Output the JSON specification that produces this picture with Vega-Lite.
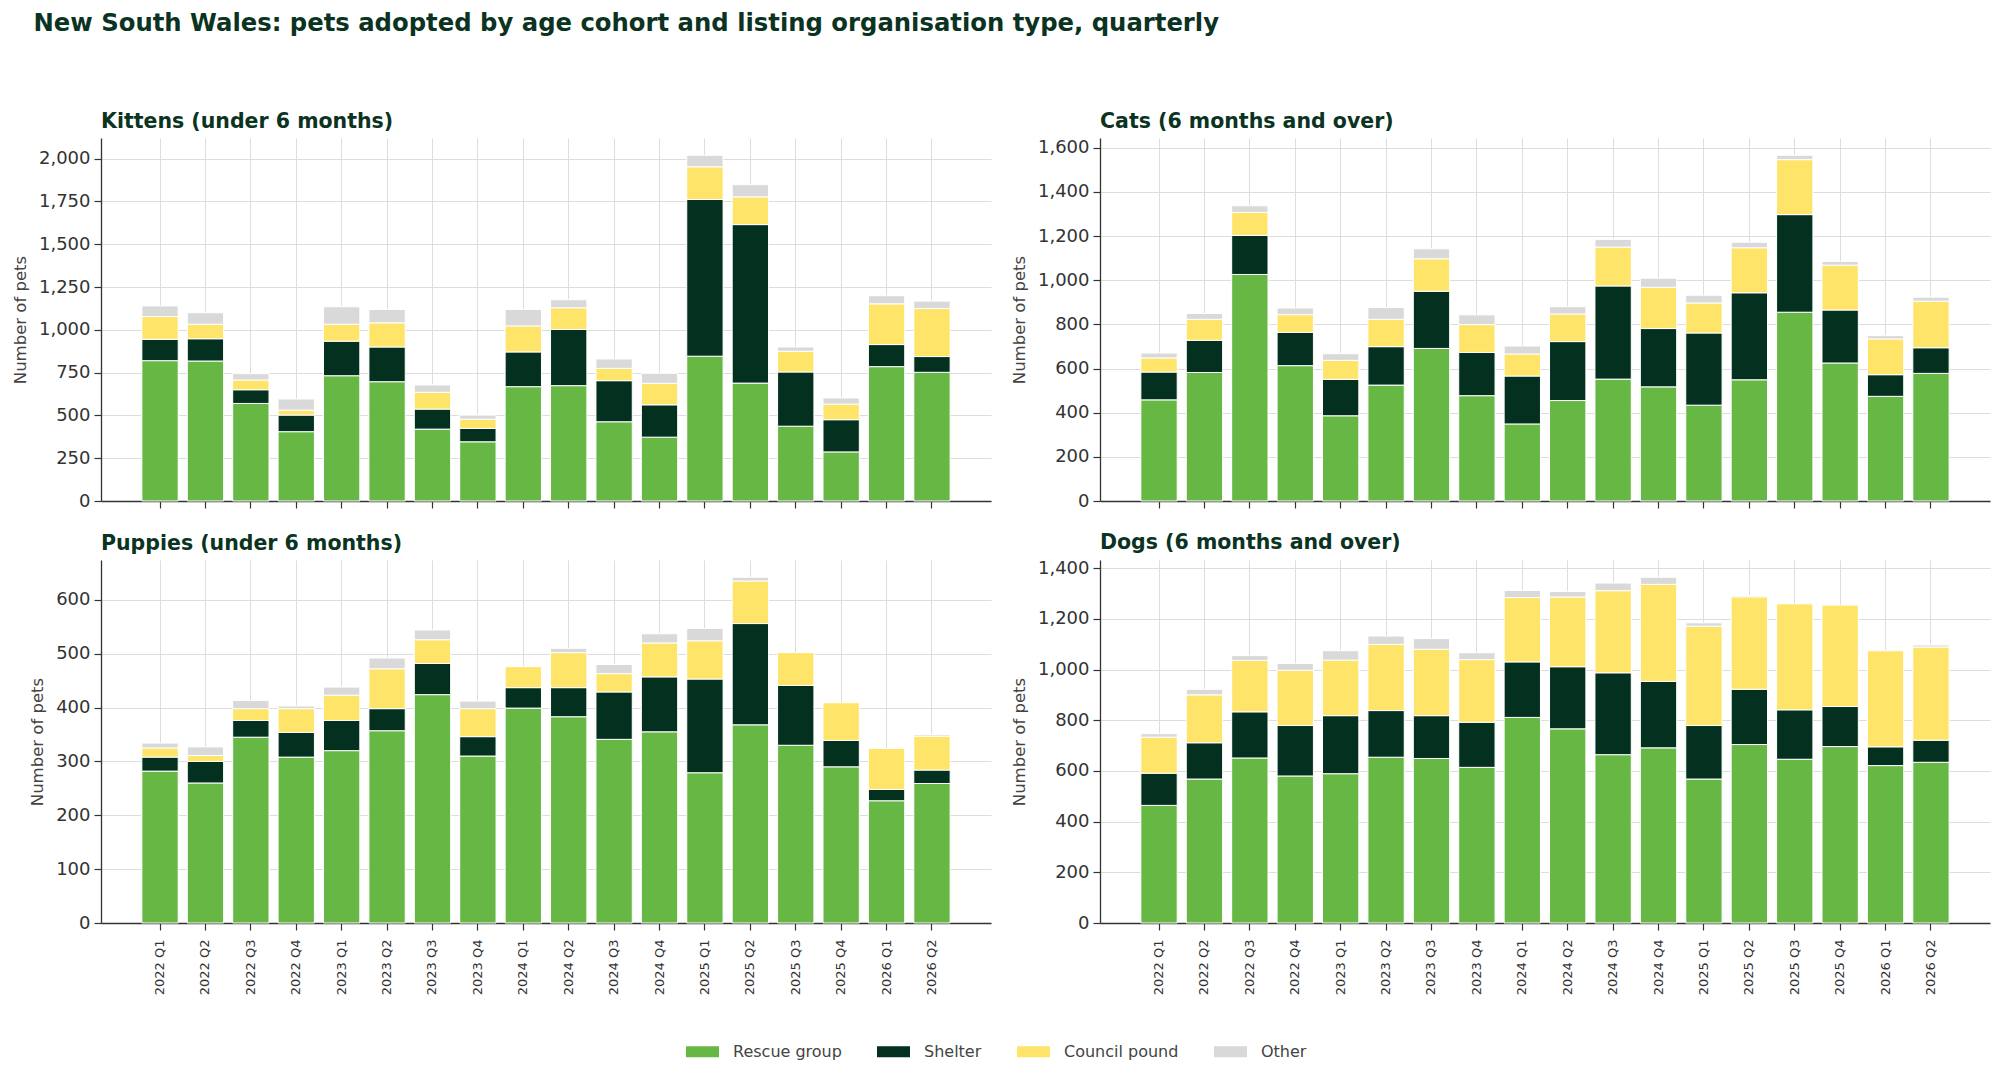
{
  "$schema": "https://vega.github.io/schema/vega-lite/v6.json",
  "description": "NSW pets adopted by age cohort and listing organisation type, quarterly",
  "background": "white",
  "padding": {"left": 12, "top": 12, "right": 8, "bottom": 5},
  "title": {
    "text": "New South Wales: pets adopted by age cohort and listing organisation type, quarterly",
    "anchor": "start",
    "frame": "bounds",
    "font": "DejaVu Sans",
    "fontSize": 24.3,
    "fontWeight": "bold",
    "color": "#0b3322",
    "dx": 21,
    "offset": 75
  },
  "datasets": {
    "ranks": [
      {"org": "Rescue group", "rank": 1},
      {"org": "Shelter", "rank": 2},
      {"org": "Council pound", "rank": 3},
      {"org": "Other", "rank": 4}
    ]
  },
  "data": {
    "values": [
      {"cohort": "Kittens", "quarter": "2022 Q1", "org": "Rescue group", "n": 820},
      {"cohort": "Kittens", "quarter": "2022 Q1", "org": "Shelter", "n": 125},
      {"cohort": "Kittens", "quarter": "2022 Q1", "org": "Council pound", "n": 133},
      {"cohort": "Kittens", "quarter": "2022 Q1", "org": "Other", "n": 62},
      {"cohort": "Kittens", "quarter": "2022 Q2", "org": "Rescue group", "n": 818},
      {"cohort": "Kittens", "quarter": "2022 Q2", "org": "Shelter", "n": 130},
      {"cohort": "Kittens", "quarter": "2022 Q2", "org": "Council pound", "n": 85},
      {"cohort": "Kittens", "quarter": "2022 Q2", "org": "Other", "n": 67},
      {"cohort": "Kittens", "quarter": "2022 Q3", "org": "Rescue group", "n": 570},
      {"cohort": "Kittens", "quarter": "2022 Q3", "org": "Shelter", "n": 80},
      {"cohort": "Kittens", "quarter": "2022 Q3", "org": "Council pound", "n": 57},
      {"cohort": "Kittens", "quarter": "2022 Q3", "org": "Other", "n": 37},
      {"cohort": "Kittens", "quarter": "2022 Q4", "org": "Rescue group", "n": 405},
      {"cohort": "Kittens", "quarter": "2022 Q4", "org": "Shelter", "n": 97},
      {"cohort": "Kittens", "quarter": "2022 Q4", "org": "Council pound", "n": 29},
      {"cohort": "Kittens", "quarter": "2022 Q4", "org": "Other", "n": 65},
      {"cohort": "Kittens", "quarter": "2023 Q1", "org": "Rescue group", "n": 732},
      {"cohort": "Kittens", "quarter": "2023 Q1", "org": "Shelter", "n": 202},
      {"cohort": "Kittens", "quarter": "2023 Q1", "org": "Council pound", "n": 99},
      {"cohort": "Kittens", "quarter": "2023 Q1", "org": "Other", "n": 102},
      {"cohort": "Kittens", "quarter": "2023 Q2", "org": "Rescue group", "n": 697},
      {"cohort": "Kittens", "quarter": "2023 Q2", "org": "Shelter", "n": 203},
      {"cohort": "Kittens", "quarter": "2023 Q2", "org": "Council pound", "n": 141},
      {"cohort": "Kittens", "quarter": "2023 Q2", "org": "Other", "n": 78},
      {"cohort": "Kittens", "quarter": "2023 Q3", "org": "Rescue group", "n": 420},
      {"cohort": "Kittens", "quarter": "2023 Q3", "org": "Shelter", "n": 117},
      {"cohort": "Kittens", "quarter": "2023 Q3", "org": "Council pound", "n": 98},
      {"cohort": "Kittens", "quarter": "2023 Q3", "org": "Other", "n": 43},
      {"cohort": "Kittens", "quarter": "2023 Q4", "org": "Rescue group", "n": 346},
      {"cohort": "Kittens", "quarter": "2023 Q4", "org": "Shelter", "n": 78},
      {"cohort": "Kittens", "quarter": "2023 Q4", "org": "Council pound", "n": 54},
      {"cohort": "Kittens", "quarter": "2023 Q4", "org": "Other", "n": 24},
      {"cohort": "Kittens", "quarter": "2024 Q1", "org": "Rescue group", "n": 668},
      {"cohort": "Kittens", "quarter": "2024 Q1", "org": "Shelter", "n": 203},
      {"cohort": "Kittens", "quarter": "2024 Q1", "org": "Council pound", "n": 152},
      {"cohort": "Kittens", "quarter": "2024 Q1", "org": "Other", "n": 96},
      {"cohort": "Kittens", "quarter": "2024 Q2", "org": "Rescue group", "n": 674},
      {"cohort": "Kittens", "quarter": "2024 Q2", "org": "Shelter", "n": 328},
      {"cohort": "Kittens", "quarter": "2024 Q2", "org": "Council pound", "n": 127},
      {"cohort": "Kittens", "quarter": "2024 Q2", "org": "Other", "n": 47},
      {"cohort": "Kittens", "quarter": "2024 Q3", "org": "Rescue group", "n": 463},
      {"cohort": "Kittens", "quarter": "2024 Q3", "org": "Shelter", "n": 240},
      {"cohort": "Kittens", "quarter": "2024 Q3", "org": "Council pound", "n": 72},
      {"cohort": "Kittens", "quarter": "2024 Q3", "org": "Other", "n": 55},
      {"cohort": "Kittens", "quarter": "2024 Q4", "org": "Rescue group", "n": 373},
      {"cohort": "Kittens", "quarter": "2024 Q4", "org": "Shelter", "n": 189},
      {"cohort": "Kittens", "quarter": "2024 Q4", "org": "Council pound", "n": 126},
      {"cohort": "Kittens", "quarter": "2024 Q4", "org": "Other", "n": 58},
      {"cohort": "Kittens", "quarter": "2025 Q1", "org": "Rescue group", "n": 846},
      {"cohort": "Kittens", "quarter": "2025 Q1", "org": "Shelter", "n": 916},
      {"cohort": "Kittens", "quarter": "2025 Q1", "org": "Council pound", "n": 191},
      {"cohort": "Kittens", "quarter": "2025 Q1", "org": "Other", "n": 67},
      {"cohort": "Kittens", "quarter": "2025 Q2", "org": "Rescue group", "n": 689},
      {"cohort": "Kittens", "quarter": "2025 Q2", "org": "Shelter", "n": 926},
      {"cohort": "Kittens", "quarter": "2025 Q2", "org": "Council pound", "n": 162},
      {"cohort": "Kittens", "quarter": "2025 Q2", "org": "Other", "n": 71},
      {"cohort": "Kittens", "quarter": "2025 Q3", "org": "Rescue group", "n": 437},
      {"cohort": "Kittens", "quarter": "2025 Q3", "org": "Shelter", "n": 317},
      {"cohort": "Kittens", "quarter": "2025 Q3", "org": "Council pound", "n": 121},
      {"cohort": "Kittens", "quarter": "2025 Q3", "org": "Other", "n": 25},
      {"cohort": "Kittens", "quarter": "2025 Q4", "org": "Rescue group", "n": 287},
      {"cohort": "Kittens", "quarter": "2025 Q4", "org": "Shelter", "n": 188},
      {"cohort": "Kittens", "quarter": "2025 Q4", "org": "Council pound", "n": 91},
      {"cohort": "Kittens", "quarter": "2025 Q4", "org": "Other", "n": 36},
      {"cohort": "Kittens", "quarter": "2026 Q1", "org": "Rescue group", "n": 785},
      {"cohort": "Kittens", "quarter": "2026 Q1", "org": "Shelter", "n": 129},
      {"cohort": "Kittens", "quarter": "2026 Q1", "org": "Council pound", "n": 238},
      {"cohort": "Kittens", "quarter": "2026 Q1", "org": "Other", "n": 47},
      {"cohort": "Kittens", "quarter": "2026 Q2", "org": "Rescue group", "n": 752},
      {"cohort": "Kittens", "quarter": "2026 Q2", "org": "Shelter", "n": 92},
      {"cohort": "Kittens", "quarter": "2026 Q2", "org": "Council pound", "n": 281},
      {"cohort": "Kittens", "quarter": "2026 Q2", "org": "Other", "n": 43},

      {"cohort": "Cats", "quarter": "2022 Q1", "org": "Rescue group", "n": 458},
      {"cohort": "Cats", "quarter": "2022 Q1", "org": "Shelter", "n": 126},
      {"cohort": "Cats", "quarter": "2022 Q1", "org": "Council pound", "n": 64},
      {"cohort": "Cats", "quarter": "2022 Q1", "org": "Other", "n": 22},
      {"cohort": "Cats", "quarter": "2022 Q2", "org": "Rescue group", "n": 582},
      {"cohort": "Cats", "quarter": "2022 Q2", "org": "Shelter", "n": 146},
      {"cohort": "Cats", "quarter": "2022 Q2", "org": "Council pound", "n": 95},
      {"cohort": "Cats", "quarter": "2022 Q2", "org": "Other", "n": 26},
      {"cohort": "Cats", "quarter": "2022 Q3", "org": "Rescue group", "n": 1026},
      {"cohort": "Cats", "quarter": "2022 Q3", "org": "Shelter", "n": 177},
      {"cohort": "Cats", "quarter": "2022 Q3", "org": "Council pound", "n": 104},
      {"cohort": "Cats", "quarter": "2022 Q3", "org": "Other", "n": 30},
      {"cohort": "Cats", "quarter": "2022 Q4", "org": "Rescue group", "n": 613},
      {"cohort": "Cats", "quarter": "2022 Q4", "org": "Shelter", "n": 151},
      {"cohort": "Cats", "quarter": "2022 Q4", "org": "Council pound", "n": 80},
      {"cohort": "Cats", "quarter": "2022 Q4", "org": "Other", "n": 30},
      {"cohort": "Cats", "quarter": "2023 Q1", "org": "Rescue group", "n": 386},
      {"cohort": "Cats", "quarter": "2023 Q1", "org": "Shelter", "n": 165},
      {"cohort": "Cats", "quarter": "2023 Q1", "org": "Council pound", "n": 86},
      {"cohort": "Cats", "quarter": "2023 Q1", "org": "Other", "n": 30},
      {"cohort": "Cats", "quarter": "2023 Q2", "org": "Rescue group", "n": 525},
      {"cohort": "Cats", "quarter": "2023 Q2", "org": "Shelter", "n": 174},
      {"cohort": "Cats", "quarter": "2023 Q2", "org": "Council pound", "n": 124},
      {"cohort": "Cats", "quarter": "2023 Q2", "org": "Other", "n": 53},
      {"cohort": "Cats", "quarter": "2023 Q3", "org": "Rescue group", "n": 691},
      {"cohort": "Cats", "quarter": "2023 Q3", "org": "Shelter", "n": 259},
      {"cohort": "Cats", "quarter": "2023 Q3", "org": "Council pound", "n": 147},
      {"cohort": "Cats", "quarter": "2023 Q3", "org": "Other", "n": 45},
      {"cohort": "Cats", "quarter": "2023 Q4", "org": "Rescue group", "n": 477},
      {"cohort": "Cats", "quarter": "2023 Q4", "org": "Shelter", "n": 196},
      {"cohort": "Cats", "quarter": "2023 Q4", "org": "Council pound", "n": 126},
      {"cohort": "Cats", "quarter": "2023 Q4", "org": "Other", "n": 44},
      {"cohort": "Cats", "quarter": "2024 Q1", "org": "Rescue group", "n": 349},
      {"cohort": "Cats", "quarter": "2024 Q1", "org": "Shelter", "n": 217},
      {"cohort": "Cats", "quarter": "2024 Q1", "org": "Council pound", "n": 100},
      {"cohort": "Cats", "quarter": "2024 Q1", "org": "Other", "n": 36},
      {"cohort": "Cats", "quarter": "2024 Q2", "org": "Rescue group", "n": 455},
      {"cohort": "Cats", "quarter": "2024 Q2", "org": "Shelter", "n": 267},
      {"cohort": "Cats", "quarter": "2024 Q2", "org": "Council pound", "n": 125},
      {"cohort": "Cats", "quarter": "2024 Q2", "org": "Other", "n": 33},
      {"cohort": "Cats", "quarter": "2024 Q3", "org": "Rescue group", "n": 552},
      {"cohort": "Cats", "quarter": "2024 Q3", "org": "Shelter", "n": 422},
      {"cohort": "Cats", "quarter": "2024 Q3", "org": "Council pound", "n": 176},
      {"cohort": "Cats", "quarter": "2024 Q3", "org": "Other", "n": 35},
      {"cohort": "Cats", "quarter": "2024 Q4", "org": "Rescue group", "n": 517},
      {"cohort": "Cats", "quarter": "2024 Q4", "org": "Shelter", "n": 264},
      {"cohort": "Cats", "quarter": "2024 Q4", "org": "Council pound", "n": 187},
      {"cohort": "Cats", "quarter": "2024 Q4", "org": "Other", "n": 41},
      {"cohort": "Cats", "quarter": "2025 Q1", "org": "Rescue group", "n": 434},
      {"cohort": "Cats", "quarter": "2025 Q1", "org": "Shelter", "n": 327},
      {"cohort": "Cats", "quarter": "2025 Q1", "org": "Council pound", "n": 136},
      {"cohort": "Cats", "quarter": "2025 Q1", "org": "Other", "n": 35},
      {"cohort": "Cats", "quarter": "2025 Q2", "org": "Rescue group", "n": 549},
      {"cohort": "Cats", "quarter": "2025 Q2", "org": "Shelter", "n": 394},
      {"cohort": "Cats", "quarter": "2025 Q2", "org": "Council pound", "n": 204},
      {"cohort": "Cats", "quarter": "2025 Q2", "org": "Other", "n": 25},
      {"cohort": "Cats", "quarter": "2025 Q3", "org": "Rescue group", "n": 855},
      {"cohort": "Cats", "quarter": "2025 Q3", "org": "Shelter", "n": 442},
      {"cohort": "Cats", "quarter": "2025 Q3", "org": "Council pound", "n": 249},
      {"cohort": "Cats", "quarter": "2025 Q3", "org": "Other", "n": 20},
      {"cohort": "Cats", "quarter": "2025 Q4", "org": "Rescue group", "n": 625},
      {"cohort": "Cats", "quarter": "2025 Q4", "org": "Shelter", "n": 240},
      {"cohort": "Cats", "quarter": "2025 Q4", "org": "Council pound", "n": 203},
      {"cohort": "Cats", "quarter": "2025 Q4", "org": "Other", "n": 17},
      {"cohort": "Cats", "quarter": "2026 Q1", "org": "Rescue group", "n": 474},
      {"cohort": "Cats", "quarter": "2026 Q1", "org": "Shelter", "n": 98},
      {"cohort": "Cats", "quarter": "2026 Q1", "org": "Council pound", "n": 162},
      {"cohort": "Cats", "quarter": "2026 Q1", "org": "Other", "n": 15},
      {"cohort": "Cats", "quarter": "2026 Q2", "org": "Rescue group", "n": 578},
      {"cohort": "Cats", "quarter": "2026 Q2", "org": "Shelter", "n": 116},
      {"cohort": "Cats", "quarter": "2026 Q2", "org": "Council pound", "n": 211},
      {"cohort": "Cats", "quarter": "2026 Q2", "org": "Other", "n": 18},

      {"cohort": "Puppies", "quarter": "2022 Q1", "org": "Rescue group", "n": 282},
      {"cohort": "Puppies", "quarter": "2022 Q1", "org": "Shelter", "n": 26},
      {"cohort": "Puppies", "quarter": "2022 Q1", "org": "Council pound", "n": 17},
      {"cohort": "Puppies", "quarter": "2022 Q1", "org": "Other", "n": 9},
      {"cohort": "Puppies", "quarter": "2022 Q2", "org": "Rescue group", "n": 260},
      {"cohort": "Puppies", "quarter": "2022 Q2", "org": "Shelter", "n": 40},
      {"cohort": "Puppies", "quarter": "2022 Q2", "org": "Council pound", "n": 11},
      {"cohort": "Puppies", "quarter": "2022 Q2", "org": "Other", "n": 16},
      {"cohort": "Puppies", "quarter": "2022 Q3", "org": "Rescue group", "n": 345},
      {"cohort": "Puppies", "quarter": "2022 Q3", "org": "Shelter", "n": 31},
      {"cohort": "Puppies", "quarter": "2022 Q3", "org": "Council pound", "n": 22},
      {"cohort": "Puppies", "quarter": "2022 Q3", "org": "Other", "n": 15},
      {"cohort": "Puppies", "quarter": "2022 Q4", "org": "Rescue group", "n": 308},
      {"cohort": "Puppies", "quarter": "2022 Q4", "org": "Shelter", "n": 46},
      {"cohort": "Puppies", "quarter": "2022 Q4", "org": "Council pound", "n": 44},
      {"cohort": "Puppies", "quarter": "2022 Q4", "org": "Other", "n": 5},
      {"cohort": "Puppies", "quarter": "2023 Q1", "org": "Rescue group", "n": 320},
      {"cohort": "Puppies", "quarter": "2023 Q1", "org": "Shelter", "n": 56},
      {"cohort": "Puppies", "quarter": "2023 Q1", "org": "Council pound", "n": 47},
      {"cohort": "Puppies", "quarter": "2023 Q1", "org": "Other", "n": 15},
      {"cohort": "Puppies", "quarter": "2023 Q2", "org": "Rescue group", "n": 357},
      {"cohort": "Puppies", "quarter": "2023 Q2", "org": "Shelter", "n": 41},
      {"cohort": "Puppies", "quarter": "2023 Q2", "org": "Council pound", "n": 74},
      {"cohort": "Puppies", "quarter": "2023 Q2", "org": "Other", "n": 20},
      {"cohort": "Puppies", "quarter": "2023 Q3", "org": "Rescue group", "n": 424},
      {"cohort": "Puppies", "quarter": "2023 Q3", "org": "Shelter", "n": 58},
      {"cohort": "Puppies", "quarter": "2023 Q3", "org": "Council pound", "n": 44},
      {"cohort": "Puppies", "quarter": "2023 Q3", "org": "Other", "n": 18},
      {"cohort": "Puppies", "quarter": "2023 Q4", "org": "Rescue group", "n": 310},
      {"cohort": "Puppies", "quarter": "2023 Q4", "org": "Shelter", "n": 36},
      {"cohort": "Puppies", "quarter": "2023 Q4", "org": "Council pound", "n": 52},
      {"cohort": "Puppies", "quarter": "2023 Q4", "org": "Other", "n": 14},
      {"cohort": "Puppies", "quarter": "2024 Q1", "org": "Rescue group", "n": 399},
      {"cohort": "Puppies", "quarter": "2024 Q1", "org": "Shelter", "n": 38},
      {"cohort": "Puppies", "quarter": "2024 Q1", "org": "Council pound", "n": 39},
      {"cohort": "Puppies", "quarter": "2024 Q2", "org": "Rescue group", "n": 383},
      {"cohort": "Puppies", "quarter": "2024 Q2", "org": "Shelter", "n": 54},
      {"cohort": "Puppies", "quarter": "2024 Q2", "org": "Council pound", "n": 65},
      {"cohort": "Puppies", "quarter": "2024 Q2", "org": "Other", "n": 8},
      {"cohort": "Puppies", "quarter": "2024 Q3", "org": "Rescue group", "n": 341},
      {"cohort": "Puppies", "quarter": "2024 Q3", "org": "Shelter", "n": 88},
      {"cohort": "Puppies", "quarter": "2024 Q3", "org": "Council pound", "n": 34},
      {"cohort": "Puppies", "quarter": "2024 Q3", "org": "Other", "n": 17},
      {"cohort": "Puppies", "quarter": "2024 Q4", "org": "Rescue group", "n": 355},
      {"cohort": "Puppies", "quarter": "2024 Q4", "org": "Shelter", "n": 102},
      {"cohort": "Puppies", "quarter": "2024 Q4", "org": "Council pound", "n": 63},
      {"cohort": "Puppies", "quarter": "2024 Q4", "org": "Other", "n": 17},
      {"cohort": "Puppies", "quarter": "2025 Q1", "org": "Rescue group", "n": 279},
      {"cohort": "Puppies", "quarter": "2025 Q1", "org": "Shelter", "n": 174},
      {"cohort": "Puppies", "quarter": "2025 Q1", "org": "Council pound", "n": 71},
      {"cohort": "Puppies", "quarter": "2025 Q1", "org": "Other", "n": 23},
      {"cohort": "Puppies", "quarter": "2025 Q2", "org": "Rescue group", "n": 368},
      {"cohort": "Puppies", "quarter": "2025 Q2", "org": "Shelter", "n": 188},
      {"cohort": "Puppies", "quarter": "2025 Q2", "org": "Council pound", "n": 79},
      {"cohort": "Puppies", "quarter": "2025 Q2", "org": "Other", "n": 7},
      {"cohort": "Puppies", "quarter": "2025 Q3", "org": "Rescue group", "n": 330},
      {"cohort": "Puppies", "quarter": "2025 Q3", "org": "Shelter", "n": 111},
      {"cohort": "Puppies", "quarter": "2025 Q3", "org": "Council pound", "n": 61},
      {"cohort": "Puppies", "quarter": "2025 Q4", "org": "Rescue group", "n": 290},
      {"cohort": "Puppies", "quarter": "2025 Q4", "org": "Shelter", "n": 49},
      {"cohort": "Puppies", "quarter": "2025 Q4", "org": "Council pound", "n": 70},
      {"cohort": "Puppies", "quarter": "2026 Q1", "org": "Rescue group", "n": 227},
      {"cohort": "Puppies", "quarter": "2026 Q1", "org": "Shelter", "n": 21},
      {"cohort": "Puppies", "quarter": "2026 Q1", "org": "Council pound", "n": 76},
      {"cohort": "Puppies", "quarter": "2026 Q2", "org": "Rescue group", "n": 259},
      {"cohort": "Puppies", "quarter": "2026 Q2", "org": "Shelter", "n": 25},
      {"cohort": "Puppies", "quarter": "2026 Q2", "org": "Council pound", "n": 63},
      {"cohort": "Puppies", "quarter": "2026 Q2", "org": "Other", "n": 3},

      {"cohort": "Dogs", "quarter": "2022 Q1", "org": "Rescue group", "n": 464},
      {"cohort": "Dogs", "quarter": "2022 Q1", "org": "Shelter", "n": 127},
      {"cohort": "Dogs", "quarter": "2022 Q1", "org": "Council pound", "n": 142},
      {"cohort": "Dogs", "quarter": "2022 Q1", "org": "Other", "n": 14},
      {"cohort": "Dogs", "quarter": "2022 Q2", "org": "Rescue group", "n": 568},
      {"cohort": "Dogs", "quarter": "2022 Q2", "org": "Shelter", "n": 143},
      {"cohort": "Dogs", "quarter": "2022 Q2", "org": "Council pound", "n": 189},
      {"cohort": "Dogs", "quarter": "2022 Q2", "org": "Other", "n": 22},
      {"cohort": "Dogs", "quarter": "2022 Q3", "org": "Rescue group", "n": 651},
      {"cohort": "Dogs", "quarter": "2022 Q3", "org": "Shelter", "n": 182},
      {"cohort": "Dogs", "quarter": "2022 Q3", "org": "Council pound", "n": 203},
      {"cohort": "Dogs", "quarter": "2022 Q3", "org": "Other", "n": 19},
      {"cohort": "Dogs", "quarter": "2022 Q4", "org": "Rescue group", "n": 580},
      {"cohort": "Dogs", "quarter": "2022 Q4", "org": "Shelter", "n": 199},
      {"cohort": "Dogs", "quarter": "2022 Q4", "org": "Council pound", "n": 218},
      {"cohort": "Dogs", "quarter": "2022 Q4", "org": "Other", "n": 27},
      {"cohort": "Dogs", "quarter": "2023 Q1", "org": "Rescue group", "n": 589},
      {"cohort": "Dogs", "quarter": "2023 Q1", "org": "Shelter", "n": 229},
      {"cohort": "Dogs", "quarter": "2023 Q1", "org": "Council pound", "n": 219},
      {"cohort": "Dogs", "quarter": "2023 Q1", "org": "Other", "n": 37},
      {"cohort": "Dogs", "quarter": "2023 Q2", "org": "Rescue group", "n": 654},
      {"cohort": "Dogs", "quarter": "2023 Q2", "org": "Shelter", "n": 184},
      {"cohort": "Dogs", "quarter": "2023 Q2", "org": "Council pound", "n": 261},
      {"cohort": "Dogs", "quarter": "2023 Q2", "org": "Other", "n": 33},
      {"cohort": "Dogs", "quarter": "2023 Q3", "org": "Rescue group", "n": 649},
      {"cohort": "Dogs", "quarter": "2023 Q3", "org": "Shelter", "n": 169},
      {"cohort": "Dogs", "quarter": "2023 Q3", "org": "Council pound", "n": 262},
      {"cohort": "Dogs", "quarter": "2023 Q3", "org": "Other", "n": 42},
      {"cohort": "Dogs", "quarter": "2023 Q4", "org": "Rescue group", "n": 614},
      {"cohort": "Dogs", "quarter": "2023 Q4", "org": "Shelter", "n": 178},
      {"cohort": "Dogs", "quarter": "2023 Q4", "org": "Council pound", "n": 247},
      {"cohort": "Dogs", "quarter": "2023 Q4", "org": "Other", "n": 27},
      {"cohort": "Dogs", "quarter": "2024 Q1", "org": "Rescue group", "n": 811},
      {"cohort": "Dogs", "quarter": "2024 Q1", "org": "Shelter", "n": 219},
      {"cohort": "Dogs", "quarter": "2024 Q1", "org": "Council pound", "n": 254},
      {"cohort": "Dogs", "quarter": "2024 Q1", "org": "Other", "n": 28},
      {"cohort": "Dogs", "quarter": "2024 Q2", "org": "Rescue group", "n": 766},
      {"cohort": "Dogs", "quarter": "2024 Q2", "org": "Shelter", "n": 245},
      {"cohort": "Dogs", "quarter": "2024 Q2", "org": "Council pound", "n": 275},
      {"cohort": "Dogs", "quarter": "2024 Q2", "org": "Other", "n": 22},
      {"cohort": "Dogs", "quarter": "2024 Q3", "org": "Rescue group", "n": 664},
      {"cohort": "Dogs", "quarter": "2024 Q3", "org": "Shelter", "n": 323},
      {"cohort": "Dogs", "quarter": "2024 Q3", "org": "Council pound", "n": 324},
      {"cohort": "Dogs", "quarter": "2024 Q3", "org": "Other", "n": 30},
      {"cohort": "Dogs", "quarter": "2024 Q4", "org": "Rescue group", "n": 691},
      {"cohort": "Dogs", "quarter": "2024 Q4", "org": "Shelter", "n": 262},
      {"cohort": "Dogs", "quarter": "2024 Q4", "org": "Council pound", "n": 383},
      {"cohort": "Dogs", "quarter": "2024 Q4", "org": "Other", "n": 28},
      {"cohort": "Dogs", "quarter": "2025 Q1", "org": "Rescue group", "n": 568},
      {"cohort": "Dogs", "quarter": "2025 Q1", "org": "Shelter", "n": 211},
      {"cohort": "Dogs", "quarter": "2025 Q1", "org": "Council pound", "n": 392},
      {"cohort": "Dogs", "quarter": "2025 Q1", "org": "Other", "n": 13},
      {"cohort": "Dogs", "quarter": "2025 Q2", "org": "Rescue group", "n": 704},
      {"cohort": "Dogs", "quarter": "2025 Q2", "org": "Shelter", "n": 218},
      {"cohort": "Dogs", "quarter": "2025 Q2", "org": "Council pound", "n": 365},
      {"cohort": "Dogs", "quarter": "2025 Q2", "org": "Other", "n": 5},
      {"cohort": "Dogs", "quarter": "2025 Q3", "org": "Rescue group", "n": 646},
      {"cohort": "Dogs", "quarter": "2025 Q3", "org": "Shelter", "n": 195},
      {"cohort": "Dogs", "quarter": "2025 Q3", "org": "Council pound", "n": 418},
      {"cohort": "Dogs", "quarter": "2025 Q4", "org": "Rescue group", "n": 696},
      {"cohort": "Dogs", "quarter": "2025 Q4", "org": "Shelter", "n": 158},
      {"cohort": "Dogs", "quarter": "2025 Q4", "org": "Council pound", "n": 400},
      {"cohort": "Dogs", "quarter": "2026 Q1", "org": "Rescue group", "n": 621},
      {"cohort": "Dogs", "quarter": "2026 Q1", "org": "Shelter", "n": 74},
      {"cohort": "Dogs", "quarter": "2026 Q1", "org": "Council pound", "n": 379},
      {"cohort": "Dogs", "quarter": "2026 Q2", "org": "Rescue group", "n": 634},
      {"cohort": "Dogs", "quarter": "2026 Q2", "org": "Shelter", "n": 87},
      {"cohort": "Dogs", "quarter": "2026 Q2", "org": "Council pound", "n": 368},
      {"cohort": "Dogs", "quarter": "2026 Q2", "org": "Other", "n": 8}
    ]
  },
  "columns": 2,
  "spacing": {"row": 22, "column": 20},
  "concat": [
    {
      "title": {"text": "Kittens (under 6 months)"},
      "width": 890,
      "height": 363,
      "transform": [
        {"filter": "datum.cohort === 'Kittens'"},
        {"lookup": "org", "from": {"data": {"name": "ranks"}, "key": "org", "fields": ["rank"]}}
      ],
      "mark": {"type": "bar", "stroke": "white", "strokeWidth": 1},
      "encoding": {
        "x": {"field": "quarter", "type": "ordinal", "title": null,
              "scale": {"paddingInner": 0.2, "paddingOuter": 0.9},
              "axis": {"labels": false}},
        "y": {"field": "n", "type": "quantitative", "stack": "zero", "title": "Number of pets",
              "scale": {"domain": [0, 2121], "nice": false},
              "axis": {"values": [0, 250, 500, 750, 1000, 1250, 1500, 1750, 2000], "format": ",.0f"}},
        "order": {"field": "rank", "type": "quantitative"},
        "color": {"field": "org", "type": "nominal",
                  "sort": ["Rescue group", "Shelter", "Council pound", "Other"],
                  "scale": {"domain": ["Rescue group", "Shelter", "Council pound", "Other"],
                            "range": ["#67b745", "#03301f", "#ffe46a", "#d9d9d9"]}}
      }
    },
    {
      "title": {"text": "Cats (6 months and over)"},
      "width": 890,
      "height": 363,
      "transform": [
        {"filter": "datum.cohort === 'Cats'"},
        {"lookup": "org", "from": {"data": {"name": "ranks"}, "key": "org", "fields": ["rank"]}}
      ],
      "mark": {"type": "bar", "stroke": "white", "strokeWidth": 1},
      "encoding": {
        "x": {"field": "quarter", "type": "ordinal", "title": null,
              "scale": {"paddingInner": 0.2, "paddingOuter": 0.9},
              "axis": {"labels": false}},
        "y": {"field": "n", "type": "quantitative", "stack": "zero", "title": "Number of pets",
              "scale": {"domain": [0, 1644], "nice": false},
              "axis": {"values": [0, 200, 400, 600, 800, 1000, 1200, 1400, 1600], "format": ",.0f"}},
        "order": {"field": "rank", "type": "quantitative"},
        "color": {"field": "org", "type": "nominal",
                  "sort": ["Rescue group", "Shelter", "Council pound", "Other"],
                  "scale": {"domain": ["Rescue group", "Shelter", "Council pound", "Other"],
                            "range": ["#67b745", "#03301f", "#ffe46a", "#d9d9d9"]}}
      }
    },
    {
      "title": {"text": "Puppies (under 6 months)"},
      "width": 890,
      "height": 363,
      "transform": [
        {"filter": "datum.cohort === 'Puppies'"},
        {"lookup": "org", "from": {"data": {"name": "ranks"}, "key": "org", "fields": ["rank"]}}
      ],
      "mark": {"type": "bar", "stroke": "white", "strokeWidth": 1},
      "encoding": {
        "x": {"field": "quarter", "type": "ordinal", "title": null,
              "scale": {"paddingInner": 0.2, "paddingOuter": 0.9},
              "axis": {"labelAngle": -90}},
        "y": {"field": "n", "type": "quantitative", "stack": "zero", "title": "Number of pets",
              "scale": {"domain": [0, 674], "nice": false},
              "axis": {"values": [0, 100, 200, 300, 400, 500, 600], "format": ",.0f"}},
        "order": {"field": "rank", "type": "quantitative"},
        "color": {"field": "org", "type": "nominal",
                  "sort": ["Rescue group", "Shelter", "Council pound", "Other"],
                  "scale": {"domain": ["Rescue group", "Shelter", "Council pound", "Other"],
                            "range": ["#67b745", "#03301f", "#ffe46a", "#d9d9d9"]}}
      }
    },
    {
      "title": {"text": "Dogs (6 months and over)"},
      "width": 890,
      "height": 363,
      "transform": [
        {"filter": "datum.cohort === 'Dogs'"},
        {"lookup": "org", "from": {"data": {"name": "ranks"}, "key": "org", "fields": ["rank"]}}
      ],
      "mark": {"type": "bar", "stroke": "white", "strokeWidth": 1},
      "encoding": {
        "x": {"field": "quarter", "type": "ordinal", "title": null,
              "scale": {"paddingInner": 0.2, "paddingOuter": 0.9},
              "axis": {"labelAngle": -90}},
        "y": {"field": "n", "type": "quantitative", "stack": "zero", "title": "Number of pets",
              "scale": {"domain": [0, 1432], "nice": false},
              "axis": {"values": [0, 200, 400, 600, 800, 1000, 1200, 1400], "format": ",.0f"}},
        "order": {"field": "rank", "type": "quantitative"},
        "color": {"field": "org", "type": "nominal",
                  "sort": ["Rescue group", "Shelter", "Council pound", "Other"],
                  "scale": {"domain": ["Rescue group", "Shelter", "Council pound", "Other"],
                            "range": ["#67b745", "#03301f", "#ffe46a", "#d9d9d9"]}}
      }
    }
  ],
  "config": {
    "font": "DejaVu Sans",
    "view": {"stroke": null},
    "title": {"anchor": "start", "frame": "group", "fontSize": 20.5, "fontWeight": "bold", "color": "#0b3322", "offset": 6},
    "axis": {
      "domainColor": "#333333",
      "domainWidth": 1.3,
      "tickColor": "#333333",
      "tickWidth": 1.2,
      "tickSize": 7,
      "labelColor": "#333333",
      "titleColor": "#444444",
      "titleFontWeight": "normal",
      "grid": true,
      "gridColor": "#dddddd",
      "gridWidth": 1
    },
    "axisX": {"labelFontSize": 13, "labelPadding": 9, "bandPosition": 0.5},
    "axisY": {"labelFontSize": 18, "labelPadding": 4, "titleFontSize": 16.5, "titlePadding": 10},
    "legend": {
      "orient": "none",
      "legendX": 585,
      "legendY": 897,
      "direction": "horizontal",
      "title": null,
      "symbolType": "M-1,-0.33H1V0.33H-1Z",
      "symbolSize": 1089,
      "symbolStrokeWidth": 0,
      "labelFontSize": 16,
      "labelColor": "#444444",
      "labelOffset": 14,
      "columnPadding": 35
    }
  }
}
